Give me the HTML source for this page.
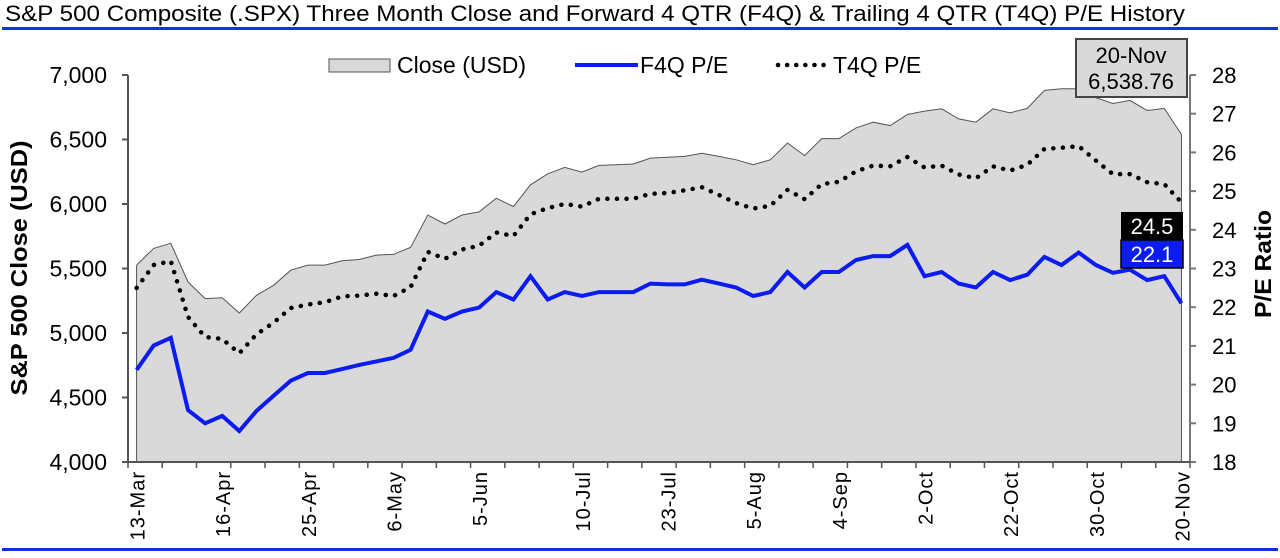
<!DOCTYPE html>
<html><head><meta charset="utf-8">
<style>
html,body{margin:0;padding:0;background:#fff;}
svg{display:block;font-family:"Liberation Sans",Arial,sans-serif;}
</style></head>
<body>
<svg id="chart" width="1280" height="558" viewBox="0 0 1280 558">
  <text x="5" y="21" font-size="22" textLength="1180" lengthAdjust="spacingAndGlyphs" fill="#000">S&amp;P 500 Composite (.SPX) Three Month Close and Forward 4 QTR (F4Q) &amp; Trailing 4 QTR (T4Q) P/E History</text>
  <rect x="2" y="27" width="1276" height="3" fill="#1133dd"/>
  <rect x="2" y="548" width="1276" height="3" fill="#1133dd"/>
  <g id="plot"></g>
  <text transform="translate(27,268) rotate(-90)" text-anchor="middle" font-size="23" font-weight="bold" textLength="255" lengthAdjust="spacingAndGlyphs">S&amp;P 500 Close (USD)</text>
  <text transform="translate(1271,264) rotate(-90)" text-anchor="middle" font-size="23" font-weight="bold" textLength="108" lengthAdjust="spacingAndGlyphs">P/E Ratio</text>
  <g>
    <rect x="329" y="59" width="61" height="13" fill="#d9d9d9" stroke="#555" stroke-width="1"/>
    <text x="397" y="73" font-size="23">Close (USD)</text>
    <line x1="575" y1="65" x2="638" y2="65" stroke="#0a1cf0" stroke-width="4"/>
    <text x="640" y="73" font-size="23">F4Q P/E</text>
    <line x1="778" y1="65" x2="824" y2="65" stroke="#000" stroke-width="4.5" stroke-linecap="round" stroke-dasharray="0.1 9"/>
    <text x="833" y="73" font-size="23">T4Q P/E</text>
  </g>
</svg>
<script>
const closeValues=[5526,5656,5695,5396,5267,5274,5155,5292,5370,5487,5526,5526,5560,5570,5604,5609,5664,5915,5845,5915,5939,6045,5980,6149,6234,6284,6247,6299,6305,6310,6356,6362,6369,6393,6369,6343,6305,6343,6473,6375,6507,6507,6590,6634,6608,6694,6720,6738,6660,6634,6738,6707,6741,6881,6894,6894,6824,6779,6803,6725,6741,6538.76];
const f4qValues=[20.38,21.01,21.21,19.34,19.0,19.19,18.8,19.32,19.71,20.1,20.3,20.3,20.4,20.51,20.6,20.69,20.9,21.89,21.7,21.89,21.99,22.39,22.2,22.8,22.2,22.39,22.29,22.39,22.39,22.39,22.61,22.59,22.59,22.71,22.61,22.51,22.29,22.39,22.91,22.51,22.91,22.91,23.22,23.32,23.32,23.61,22.8,22.91,22.61,22.51,22.91,22.7,22.84,23.3,23.09,23.41,23.09,22.89,22.97,22.7,22.8,22.1];
const t4qValues=[22.5,23.09,23.19,21.75,21.23,21.18,20.81,21.3,21.6,21.98,22.07,22.13,22.28,22.3,22.35,22.29,22.52,23.43,23.25,23.49,23.59,23.93,23.84,24.4,24.56,24.67,24.6,24.8,24.8,24.8,24.93,24.95,25.02,25.1,24.9,24.69,24.55,24.62,25.03,24.79,25.18,25.24,25.51,25.66,25.64,25.88,25.61,25.66,25.43,25.33,25.64,25.53,25.68,26.09,26.12,26.16,25.79,25.44,25.44,25.23,25.18,24.71];
const dateLabels=["13-Mar","16-Apr","25-Apr","6-May","5-Jun","10-Jul","23-Jul","5-Aug","4-Sep","2-Oct","22-Oct","30-Oct","20-Nov"];
const labelIndex=[0,5,10,15,20,26,31,36,41,46,51,56,61];
const leftTicks=[4000,4500,5000,5500,6000,6500,7000];
const rightTicks=[18,19,20,21,22,23,24,25,26,27,28];
const lastCloseText="6,538.76", lastDateText="20-Nov", lastT4QText="24.5", lastF4QText="22.1";

const NS="http://www.w3.org/2000/svg";
const plotG=document.getElementById('plot');
const X0=128,X1=1190,Y0=462,Y1=75;
const N=closeValues.length, W=(X1-X0)/N;
const xPos=i=>X0+(i+0.5)*W;
const yL=v=>Y0-(v-4000)/3000*(Y0-Y1);
const yR=v=>Y0-(v-18)/10*(Y0-Y1);
function mk(tag,attrs){const e=document.createElementNS(NS,tag);for(const k in attrs)e.setAttribute(k,attrs[k]);plotG.appendChild(e);return e;}

const areaD=`M${xPos(0)},${Y0} `+closeValues.map((v,i)=>`L${xPos(i).toFixed(1)},${yL(v).toFixed(1)}`).join(' ')+` L${xPos(N-1)},${Y0} Z`;
const areaEl=mk('path',{d:areaD,fill:'#d9d9d9',stroke:'none'});


const outlineEl=mk('path',{d:'M'+closeValues.map((v,i)=>`${xPos(i).toFixed(1)},${yL(v).toFixed(1)}`).join(' L'),fill:'none',stroke:'#555','stroke-width':1});


const leftEdge=mk('line',{x1:xPos(0),y1:yL(closeValues[0]),x2:xPos(0),y2:Y0,stroke:'#555','stroke-width':1});


const rightEdge=mk('line',{x1:xPos(N-1),y1:yL(closeValues[N-1]),x2:xPos(N-1),y2:Y0,stroke:'#555','stroke-width':1});



const t4Line=mk('path',{d:'M'+t4qValues.map((v,i)=>`${xPos(i).toFixed(1)},${yR(v).toFixed(1)}`).join(' L'),fill:'none',stroke:'#000','stroke-width':4.5,'stroke-linecap':'round','stroke-dasharray':'0.1 9.5'});


const f4Line=mk('path',{d:'M'+f4qValues.map((v,i)=>`${xPos(i).toFixed(1)},${yR(v).toFixed(1)}`).join(' L'),fill:'none',stroke:'#0a1cf0','stroke-width':4});



const lAxis=mk('line',{x1:X0,y1:Y1,x2:X0,y2:Y0+1,stroke:'#555','stroke-width':2});


const rAxis=mk('line',{x1:X1,y1:Y1,x2:X1,y2:Y0+1,stroke:'#777','stroke-width':2});


const xAxis=mk('line',{x1:X0-6,y1:Y0,x2:X1,y2:Y0,stroke:'#555','stroke-width':2});



leftTicks.forEach(v=>{
  const t=mk('line',{x1:X0-6,y1:yL(v),x2:X0,y2:yL(v),stroke:'#555','stroke-width':2});
  
  
  const l=mk('text',{x:X0-21,y:yL(v)+8,'text-anchor':'end','font-size':23});
  
  
  l.textContent=v.toLocaleString('en-US');
});
rightTicks.forEach(v=>{
  const t=mk('line',{x1:X1,y1:yR(v),x2:X1+6,y2:yR(v),stroke:'#777','stroke-width':2});
  
  
  const l=mk('text',{x:X1+22,y:yR(v)+8,'text-anchor':'start','font-size':22});
  
  
  l.textContent=v;
});
for(let i=0;i<=N;i+=2){
  const tx=X0+i*W;
  const t=mk('line',{x1:tx,y1:Y0,x2:tx,y2:Y0+6,stroke:'#555','stroke-width':1.5});
  
  
}
dateLabels.forEach((s,k)=>{
  const cx=xPos(labelIndex[k])+8;
  const l=mk('text',{x:0,y:0,'text-anchor':'end','font-size':20,'letter-spacing':'1',transform:`translate(${cx},${Y0+9}) rotate(-90)`});
  
  
  l.textContent=s;
});

const ab=mk('rect',{x:1076,y:39,width:111,height:58,fill:'#d9d9d9',stroke:'#444','stroke-width':2});


const at1=mk('text',{x:1131,y:63,'text-anchor':'middle','font-size':22});


at1.textContent=lastDateText;
const at2=mk('text',{x:1131,y:89,'text-anchor':'middle','font-size':22});


at2.textContent=lastCloseText;

const tb=mk('rect',{x:1121,y:212,width:62,height:28,fill:'#000'});


const tt=mk('text',{x:1152,y:234,'text-anchor':'middle','font-size':22,fill:'#fff'});


tt.textContent=lastT4QText;
const fb=mk('rect',{x:1121,y:240,width:62,height:28,fill:'#0a1cf0',stroke:'#000','stroke-width':1.5});


const ft=mk('text',{x:1152,y:262,'text-anchor':'middle','font-size':22,fill:'#fff'});


ft.textContent=lastF4QText;
</script>
</body></html>
